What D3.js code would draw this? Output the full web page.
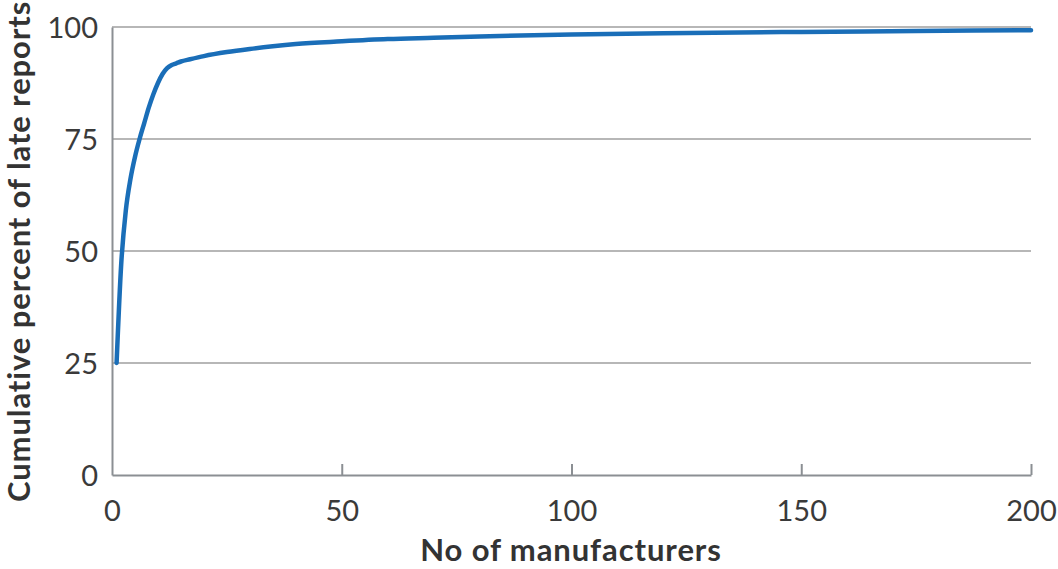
<!DOCTYPE html>
<html>
<head>
<meta charset="utf-8">
<script src="https://cdn.jsdelivr.net/npm/d3@7"></script>
<style>
  body { margin: 0; background: #fff; }
  svg { display: block; }
  .tick text { font-family: Lato, "Open Sans", sans-serif; fill: #3a3a3a; }
</style>
</head>
<body>
<svg id="chart" width="1058" height="569"></svg>
<script>
// cumulative share of late reports by number of manufacturers
const manufacturers = [1, 2, 3, 4, 5, 6, 7, 8, 9, 10, 11, 12, 13, 14, 15, 17, 20, 25, 30, 35, 40, 50, 60, 70, 80, 100, 120, 150, 175, 200];
const cumulativePct = [25, 47, 59, 66, 71, 75, 78.5, 82, 85, 87.5, 89.5, 90.8, 91.5, 91.9, 92.3, 92.8, 93.5, 94.4, 95.1, 95.7, 96.2, 96.8, 97.3, 97.6, 97.9, 98.3, 98.6, 98.9, 99.1, 99.3];
const xTicks = [0, 50, 100, 150, 200];
const yTicks = [0, 25, 50, 75, 100];

const data = manufacturers.map((m, i) => ({ m: m, pct: cumulativePct[i] }));

let chart = d3.select("#chart");

let xScale = d3.scaleLinear().domain([0, 200]).range([112, 1031]);
let yScale = d3.scaleLinear().domain([0, 100]).range([475, 27]);

// horizontal gridlines
chart.append("g")
    .selectAll("line")
    .data(yTicks.filter(d => d > 0)).enter()
        .append("line")
            .attr("x1", xScale(0))
            .attr("x2", xScale(200))
            .attr("y1", d => yScale(d))
            .attr("y2", d => yScale(d))
            .attr("stroke", "#b7b7b7")
            .attr("stroke-width", 2);

// x axis, ticks pointing up
let xAxis = chart.append("g")
    .attr("transform", "translate(0," + yScale(0) + ")")
    .call(d3.axisBottom(xScale).tickValues(xTicks).tickSizeInner(-11).tickSizeOuter(0).tickPadding(25));
xAxis.select(".domain").attr("stroke", "#8b8f93").attr("stroke-width", 2);
xAxis.selectAll(".tick line").attr("stroke", "#8b8f93").attr("stroke-width", 2);
xAxis.selectAll(".tick").filter(d => d === 0).select("line").remove();
xAxis.selectAll(".tick text").style("font-size", "29px");

// y axis
let yAxis = chart.append("g")
    .attr("transform", "translate(" + xScale(0) + ",0)")
    .call(d3.axisLeft(yScale).tickValues(yTicks).tickSize(0).tickPadding(14));
yAxis.select(".domain").attr("stroke", "#8b8f93").attr("stroke-width", 2);
yAxis.selectAll(".tick text").style("font-size", "29px").attr("dy", "0.36em");

// the curve
let line = d3.line()
    .x(d => xScale(d.m))
    .y(d => yScale(d.pct))
    .curve(d3.curveMonotoneX);

chart.append("path")
    .datum(data)
    .attr("d", line)
    .attr("fill", "none")
    .attr("stroke", "#1a6eb8")
    .attr("stroke-width", 4.5)
    .attr("stroke-linecap", "round")
    .attr("stroke-linejoin", "round");

// axis titles
chart.append("text")
    .text("No of manufacturers")
    .attr("x", 571)
    .attr("y", 561)
    .style("text-anchor", "middle")
    .style("font-family", "Lato, 'Open Sans', sans-serif")
    .style("font-size", "31px")
    .style("letter-spacing", "0.9px")
    .style("font-weight", "bold")
    .style("fill", "#333");

chart.append("text")
    .text("Cumulative percent of late reports")
    .attr("transform", "translate(30,502) rotate(-90)")
    .style("text-anchor", "start")
    .style("font-family", "Lato, 'Open Sans', sans-serif")
    .style("font-size", "31px")
    .style("letter-spacing", "0.9px")
    .style("font-weight", "bold")
    .style("fill", "#333");
</script>
</body>
</html>
